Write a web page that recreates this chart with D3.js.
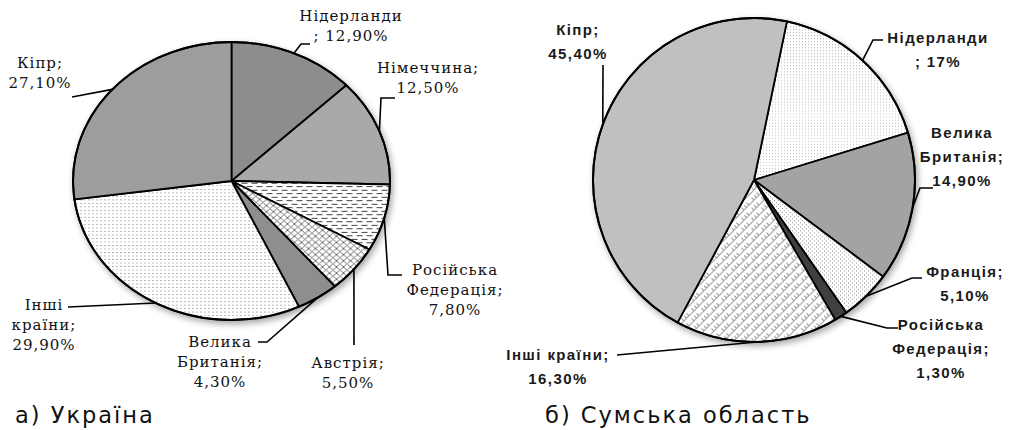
<!DOCTYPE html>
<html>
<head>
<meta charset="utf-8">
<script src="https://cdn.jsdelivr.net/npm/d3@7"></script>
<style>
  body { margin: 0; background: #fff; }
  .lblA { font-family: "DejaVu Serif", serif; font-size: 15px; fill: #111; letter-spacing: 1px; }
  .lblB { font-family: "Liberation Sans", Arial, sans-serif; font-size: 15px; font-weight: bold; fill: #1a1a1a; letter-spacing: 1.4px; }
  .ttl { font-family: "DejaVu Sans", Verdana, sans-serif; font-size: 22.5px; fill: #111; letter-spacing: 2px; }
</style>
</head>
<body>
<svg id="chart" width="1010" height="430"></svg>
<script>
// а) Україна
const uaCountries = ["Нідерланди", "Німеччина", "Російська Федерація", "Австрія", "Велика Британія", "Інші країни", "Кіпр"];
const uaShares = [12.9, 12.5, 7.8, 5.5, 4.3, 29.9, 27.1];
const uaLines = [["Нідерланди", "; #"], ["Німеччина;", "#"], ["Російська", "Федерація;", "#"],
                 ["Австрія;", "#"], ["Велика", "Британія;", "#"], ["Інші", "країни;", "#"], ["Кіпр;", "#"]];

// б) Сумська область
const sumCountries = ["Нідерланди", "Велика Британія", "Франція", "Російська Федерація", "Інші країни", "Кіпр"];
const sumShares = [17, 14.9, 5.1, 1.3, 16.3, 45.4];
const sumLines = [["Нідерланди", "; #"], ["Велика", "Британія;", "#"], ["Франція;", "#"],
                  ["Російська", "Федерація;", "#"], ["Інші країни;", "#"], ["Кіпр;", "#"]];

const titles = ["а) Україна", "б) Сумська область"];

const svg = d3.select("#chart");
const defs = svg.append("defs");

// drop shadow
const f = defs.append("filter").attr("id", "shadow").attr("x", "-10%").attr("y", "-10%").attr("width", "125%").attr("height", "125%");
f.append("feDropShadow").attr("dx", 2).attr("dy", 3).attr("stdDeviation", 3).attr("flood-color", "#000").attr("flood-opacity", 0.35);

function pat(id, w, h, bg, build) {
  const p = defs.append("pattern").attr("id", id).attr("patternUnits", "userSpaceOnUse")
    .attr("width", w).attr("height", h);
  p.append("rect").attr("width", w).attr("height", h).attr("fill", bg);
  build(p);
}
pat("checker", 2, 2, "#c4c4c4", p => {
  p.append("rect").attr("width", 1).attr("height", 1).attr("fill", "#555");
  p.append("rect").attr("x", 1).attr("y", 1).attr("width", 1).attr("height", 1).attr("fill", "#555");
});
pat("dash", 10, 8, "#fff", p => {
  p.append("path").attr("d", "M0 2.5H6M5 6.5H11M-5 6.5H1").attr("stroke", "#222").attr("stroke-width", 1);
});
pat("grid", 7, 7, "#fff", p => {
  p.append("path").attr("d", "M0 0L7 7M7 0L0 7M-1 6L1 8M6 -1L8 1M-1 1L1 -1M6 8L8 6")
    .attr("stroke", "#666").attr("stroke-width", 1);
});
pat("dots", 4, 4, "#fff", p => {
  p.append("rect").attr("x", 1).attr("y", 1).attr("width", 1).attr("height", 1).attr("fill", "#666");
});
pat("dotsLight", 3, 3, "#fff", p => {
  p.append("rect").attr("width", 1).attr("height", 1).attr("fill", "#bbb");
});
pat("dotsMid", 4, 4, "#fff", p => {
  p.append("rect").attr("width", 1).attr("height", 1).attr("fill", "#999");
  p.append("rect").attr("x", 2).attr("y", 2).attr("width", 1).attr("height", 1).attr("fill", "#999");
});
pat("brick", 10, 10, "#fff", p => {
  p.append("path").attr("d", "M0 10L10 0M-5 5L5 -5M5 15L15 5M2.5 2.5L5 5M7.5 7.5L10 10M0 5L2.5 7.5")
    .attr("stroke", "#999").attr("stroke-width", 1);
});

const fmt = v => (Number.isInteger(v) ? String(v) : v.toFixed(2).replace(".", ",")) + "%";

function drawPie(o) {
  const pie = d3.pie().sort(null).value(d => d)
    .startAngle(o.start).endAngle(o.start + 2 * Math.PI);
  const arcs = pie(o.values);
  const arc = d3.arc().innerRadius(0).outerRadius(o.rx);

  const g = svg.append("g").attr("transform", `translate(${o.cx},${o.cy})`);
  const pg = g.append("g").attr("filter", "url(#shadow)")
    .append("g").attr("transform", `scale(1,${o.ry / o.rx})`);
  pg.selectAll("path.slice").data(arcs).join("path")
    .attr("class", "slice")
    .attr("d", arc)
    .attr("fill", (d, i) => o.fills[i])
    .attr("stroke", "#000")
    .attr("stroke-width", 1.8)
    .attr("stroke-linejoin", "round")
    .attr("vector-effect", "non-scaling-stroke");
  pg.append("circle").attr("r", o.rx).attr("fill", "none")
    .attr("stroke", "#000").attr("stroke-width", 2).attr("vector-effect", "non-scaling-stroke");

  // leader lines, from slice mid-angle on the rim to the label
  const edge = d => {
    const a = (d.startAngle + d.endAngle) / 2;
    return [o.cx + o.rx * Math.sin(a), o.cy - o.ry * Math.cos(a)];
  };
  const line = d3.line();
  svg.append("g").selectAll("path").data(arcs).join("path")
    .attr("d", (d, i) => line([edge(d), ...o.leaders[i]]))
    .attr("fill", "none").attr("stroke", "#000").attr("stroke-width", 1.6);

  // labels
  const lg = svg.append("g");
  arcs.forEach((d, i) => {
    const [x, y] = o.labelPos[i];
    const t = lg.append("text").attr("class", o.cls).attr("text-anchor", "middle")
      .attr("x", x).attr("y", y);
    o.lines[i].forEach((s, k) => {
      t.append("tspan").attr("x", x).attr("dy", k ? o.lh : 0).text(s.replace("#", fmt(d.data)));
    });
  });
}

drawPie({
  values: uaShares, lines: uaLines, cls: "lblA", lh: 20,
  cx: 231.5, cy: 181, rx: 158.5, ry: 139, start: 0,
  fills: ["url(#checker)", "#a9a9a9", "url(#dash)", "url(#grid)", "#8e8e8e", "url(#dots)", "#9d9d9d"],
  labelPos: [[351, 21], [428, 73], [455, 275], [348, 368], [220, 347], [44, 310], [40, 68]],
  leaders: [
    [[301, 44], [310, 44]],
    [[381, 98], [395, 98]],
    [[388, 275], [402, 275]],
    [[354, 345]],
    [[267, 342], [258, 342]],
    [[68, 307]],
    [[72, 97]]
  ]
});

drawPie({
  values: sumShares, lines: sumLines, cls: "lblB", lh: 24,
  cx: 754, cy: 180, rx: 161, ry: 162, start: 11.8 * Math.PI / 180,
  fills: ["url(#dotsLight)", "#a3a3a3", "url(#dotsMid)", "#404040", "url(#brick)", "#c0c0c0"],
  labelPos: [[938, 43], [962, 138], [965, 277], [941, 330], [558, 360], [578, 35]],
  leaders: [
    [[873, 40], [883, 40]],
    [[920, 188], [933, 188]],
    [[912, 278], [922, 278]],
    [[887, 328], [898, 328]],
    [[617, 355]],
    [[603, 65]]
  ]
});

svg.selectAll("text.ttl").data(titles).join("text")
  .attr("class", "ttl")
  .attr("x", (d, i) => [15, 545][i])
  .attr("y", 423)
  .text(d => d);
</script>
</body>
</html>
